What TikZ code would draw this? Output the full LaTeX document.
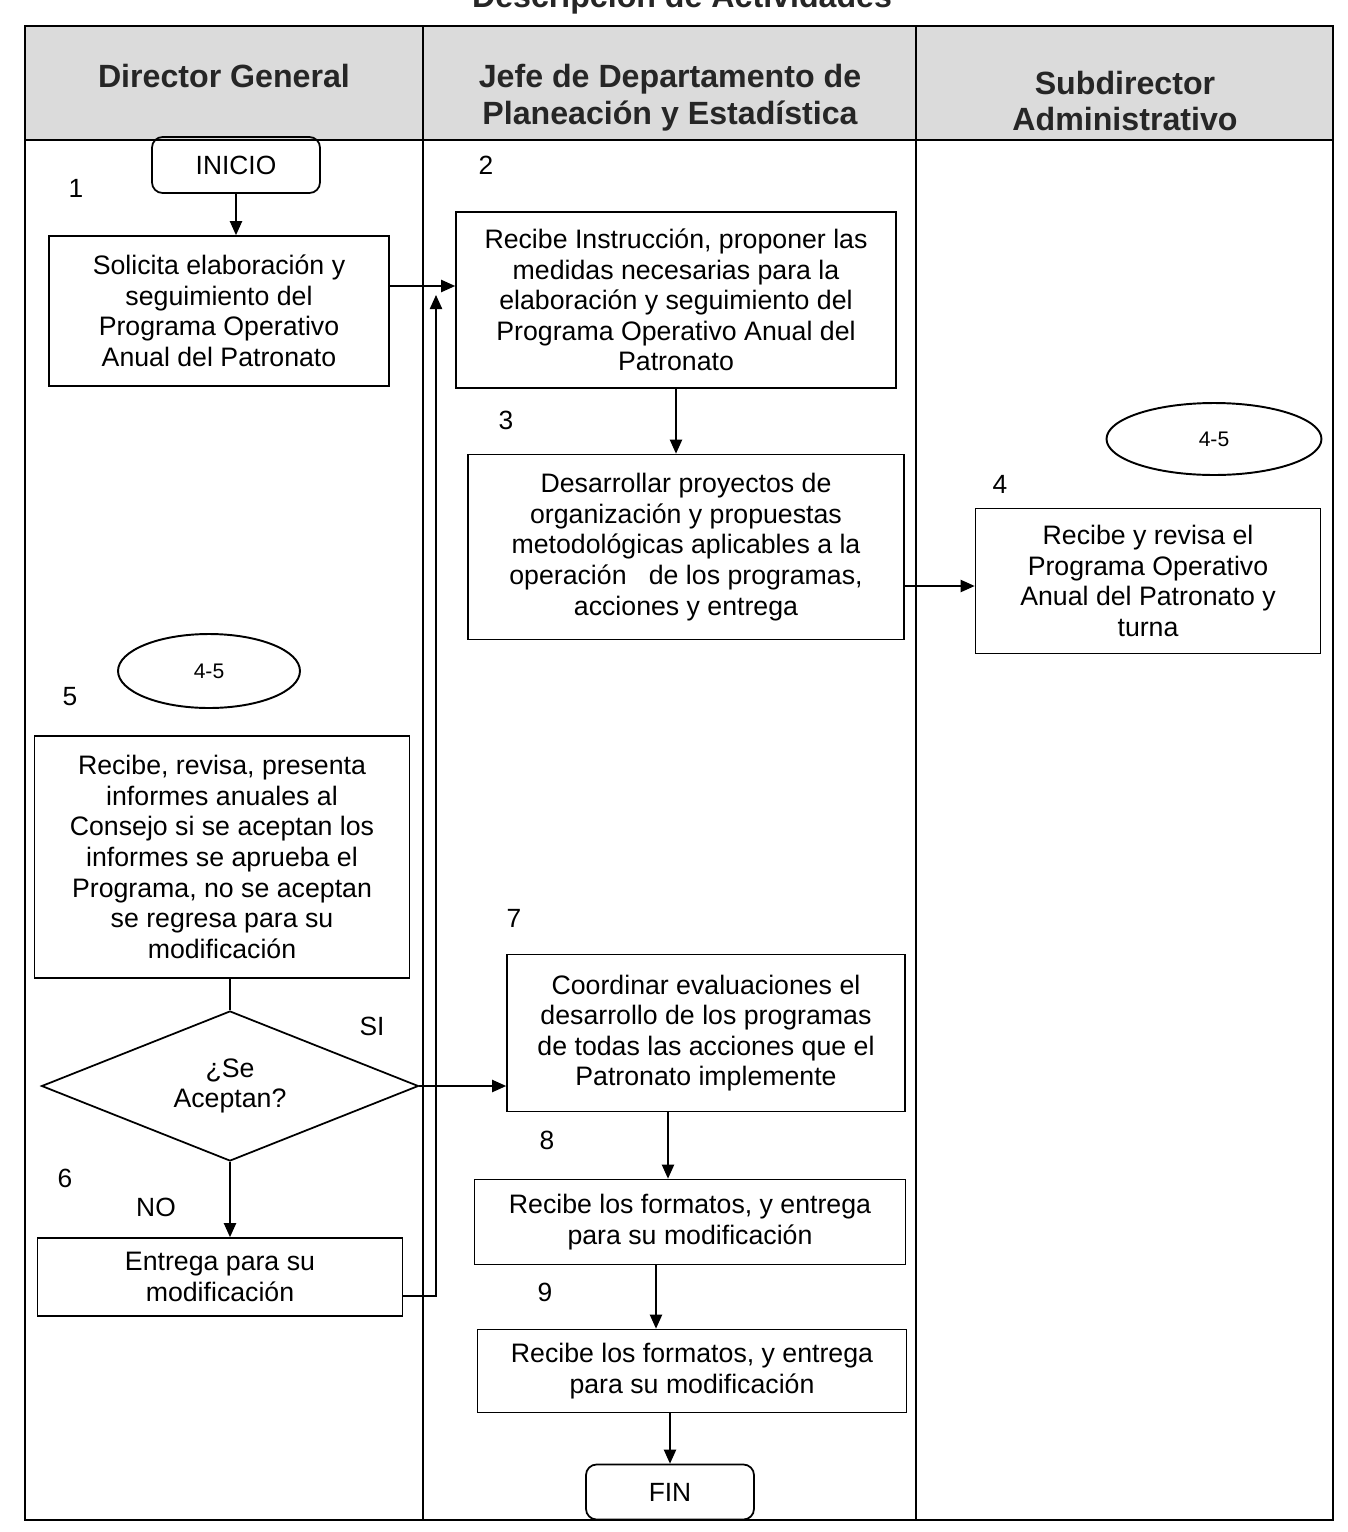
\documentclass[tikz,border=0pt]{standalone}
\usepackage{fontspec}
\setmainfont{Liberation Sans}
\usetikzlibrary{arrows.meta,positioning,shapes.geometric}
\tikzset{
  proc/.style ={draw,line width=1pt,align=center,inner sep=2pt,font=\fontsize{15.2}{17.4}\selectfont},
  term/.style ={draw,line width=1pt,rounded corners=6pt,align=center,font=\fontsize{15}{18}\selectfont,
                minimum width=3.36cm,minimum height=1.12cm},
  conn/.style ={draw,line width=1.1pt,ellipse,inner sep=0pt,font=\fontsize{12}{14}\selectfont},
  decis/.style={draw,line width=1pt,diamond,shape aspect=2.5,inner sep=0pt,align=center,
                font=\fontsize{15.2}{17.4}\selectfont},
  num/.style  ={font=\fontsize{15}{18}\selectfont,inner sep=0pt},
  hdr/.style  ={font=\fontsize{18.3}{21}\selectfont\bfseries,align=center,inner sep=0pt,text=black!85},
  lane/.style ={line width=0.8pt},
  ar/.style   ={-{Triangle[length=8pt,width=7pt]},line width=0.8pt},
}
\begin{document}
\begin{tikzpicture}[x=0.02cm,y=-0.02cm]
  \useasboundingbox (0,0) rectangle (1348,1532);
  % carriles
  \fill[black!14] (25,26) rectangle (1333,140);
  \draw[lane] (25,26) rectangle (1333,1520);
  \draw[lane] (25,140) -- (1333,140);
  \draw[lane] (423,26) -- (423,1520);
  \draw[lane] (916,26) -- (916,1520);
  \node[hdr,anchor=base] (titulo) at (682,7) {Descripción de Actividades};
  \node[hdr] (hdir) at (224,76) {Director General};
  \node[hdr] (hjefe) at (670,98) {Jefe de Departamento de\\Planeación y Estadística};
  \node[hdr] (hsub) at (1125,101) {Subdirector\\Administrativo};

  % Director General
  \node[term] (inicio) at (236,165) {INICIO};
  \node[num] (n1) at (76,188) {1};
  \node[proc,minimum width=6.8cm,minimum height=3cm] (sol) at (219,311)
    {Solicita elaboración y\\seguimiento del\\Programa Operativo\\Anual del Patronato};
  \node[conn,minimum width=3.64cm,minimum height=1.48cm] (c45b) at (209,671) {4-5};
  \node[num] (n5) at (70,697) {5};
  \node[proc,minimum width=7.5cm,minimum height=4.84cm] (inf) at (222,857)
    {Recibe, revisa, presenta\\informes anuales al\\Consejo si se aceptan los\\informes se aprueba el\\Programa, no se aceptan\\se regresa para su\\modificación};
  \node[decis,minimum width=7.54cm,minimum height=3cm] (acep) at (230,1086) {¿Se\\Aceptan?};
  \node[num] (si) at (372,1026) {SI};
  \node[num] (n6) at (65,1178) {6};
  \node[num] (no) at (156,1207) {NO};
  \node[proc,minimum width=7.3cm,minimum height=1.56cm] (ent) at (220,1277)
    {Entrega para su\\modificación};

  % Jefe de Departamento
  \node[num] (n2) at (486,165) {2};
  \node[proc,minimum width=8.8cm,minimum height=3.52cm] (rec) at (676,300)
    {Recibe Instrucción, proponer las\\medidas necesarias para la\\elaboración y seguimiento del\\Programa Operativo Anual del\\Patronato};
  \node[num] (n3) at (506,420) {3};
  \node[proc,minimum width=8.72cm,minimum height=3.7cm] (des) at (686,547)
    {Desarrollar proyectos de\\organización y propuestas\\metodológicas aplicables a la\\operación \ \ de los programas,\\acciones y entrega};
  \node[num] (n7) at (514,918) {7};
  \node[proc,minimum width=7.96cm,minimum height=3.14cm] (coord) at (706,1033)
    {Coordinar evaluaciones el\\desarrollo de los programas\\de todas las acciones que el\\Patronato implemente};
  \node[num] (n8) at (547,1140) {8};
  \node[proc,minimum width=8.62cm,minimum height=1.7cm] (fmta) at (690,1222)
    {Recibe los formatos, y entrega\\para su modificación};
  \node[num] (n9) at (545,1292) {9};
  \node[proc,minimum width=8.58cm,minimum height=1.66cm] (fmtb) at (692,1371)
    {Recibe los formatos, y entrega\\para su modificación};
  \node[term,minimum height=1.1cm] (fin) at (670,1492) {FIN};

  % Subdirector
  \node[conn,minimum width=4.3cm,minimum height=1.44cm] (c45a) at (1214,439) {4-5};
  \node[num] (n4) at (1000,484) {4};
  \node[proc,minimum width=6.9cm,minimum height=2.9cm] (rev) at (1148,581)
    {Recibe y revisa el\\Programa Operativo\\Anual del Patronato y\\turna};

  % flechas
  \coordinate (ysol) at (0,286);
  \coordinate (ydes) at (0,586);
  \coordinate (yent) at (0,1296);
  \coordinate (ret) at (436,295);
  \coordinate (xa) at (668,0);
  \coordinate (xb) at (656,0);
  \draw[ar] (inicio.south) -- (inicio.south |- sol.north);
  \draw[ar] (sol.east |- ysol) -- (rec.west |- ysol);
  \draw[ar] (rec.south) -- (rec.south |- des.north);
  \draw[ar] (des.east |- ydes) -- (rev.west |- ydes);
  \draw[lane] (acep.north |- inf.south) -- (acep.north);
  \draw[ar] (acep.east) -- (acep.east -| coord.west);
  \draw[ar] (acep.south) -- (acep.south |- ent.north);
  \draw[ar] (ent.east |- yent) -| (ret);
  \draw[ar] (coord.south -| xa) -- (fmta.north -| xa);
  \draw[ar] (fmta.south -| xb) -- (fmtb.north -| xb);
  \draw[ar] (fmtb.south -| fin) -- (fin.north);
\end{tikzpicture}
\end{document}
